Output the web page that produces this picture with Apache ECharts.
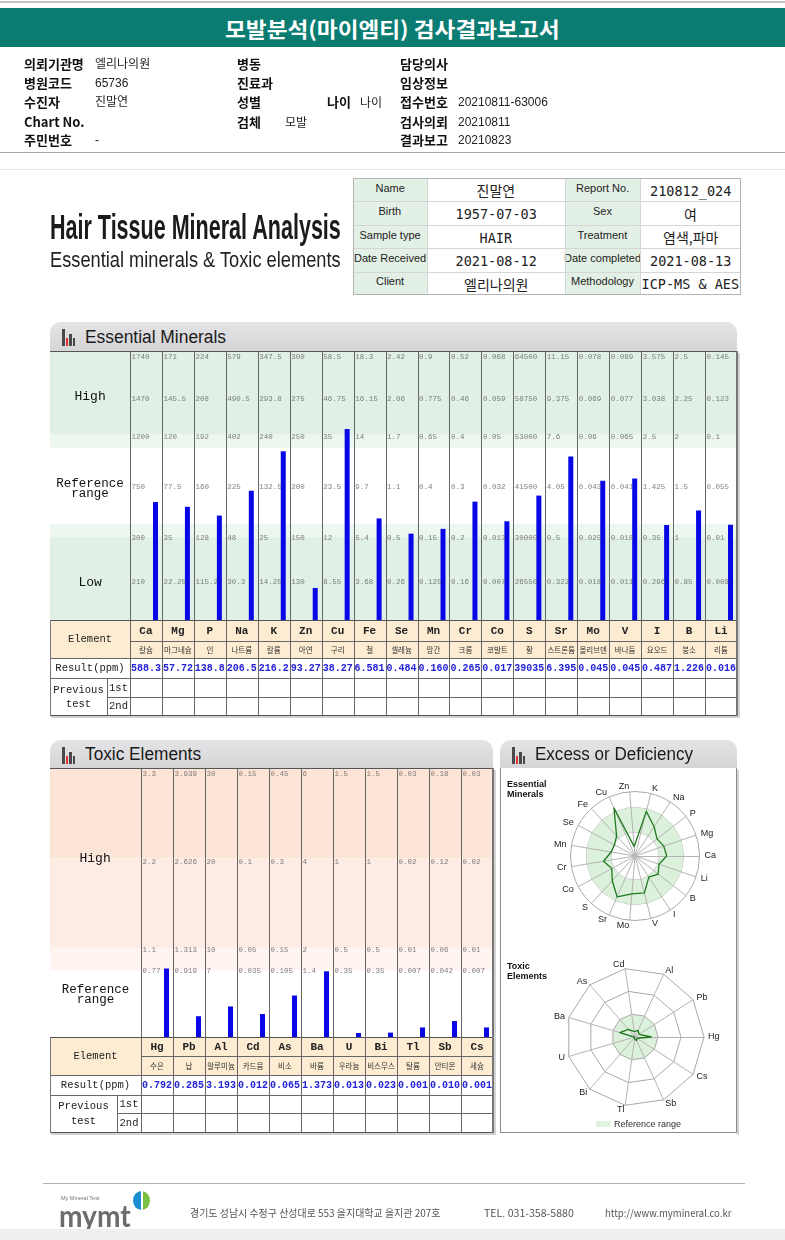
<!DOCTYPE html>
<html><head><meta charset="utf-8">
<script src="https://cdn.jsdelivr.net/npm/echarts/dist/echarts.min.js"></script>
<style>
body{margin:0;background:#fff;}
#page{position:relative;width:785px;height:1240px;overflow:hidden;background:#fff;font-family:'Noto Sans CJK KR','Noto Sans',sans-serif;}
#chart{position:absolute;left:0;top:0;width:785px;height:1240px;z-index:1;}
.a{position:absolute;white-space:nowrap;z-index:2;box-sizing:border-box;}
</style></head><body><div id="page"><div id="chart"></div></div>
<script>
// ---------------- DATA ----------------
const essSymbols=['Ca','Mg','P','Na','K','Zn','Cu','Fe','Se','Mn','Cr','Co','S','Sr','Mo','V','I','B','Li'];
const essKorean=['칼슘','마그네슘','인','나트륨','칼륨','아연','구리','철','셀레늄','망간','크롬','코발트','황','스트론튬','몰리브덴','바나듐','요오드','붕소','리튬'];
const essResult=['588.3','57.72','138.8','206.5','216.2','93.27','38.27','6.581','0.484','0.160','0.265','0.017','39035','6.395','0.045','0.045','0.487','1.226','0.016'];
const essTop=[1740,171,224,579,347.5,300,58.5,18.3,2.42,0.9,0.52,0.068,64500,11.15,0.078,0.089,3.575,2.5,0.145];
const essHighMid=[1470,145.5,208,490.5,293.8,275,46.75,16.15,2.06,0.775,0.46,0.059,58750,9.375,0.069,0.077,3.038,2.25,0.123];
const essHigh=[1200,120,192,402,240,250,35,14,1.7,0.65,0.4,0.05,53000,7.6,0.06,0.065,2.5,2,0.1];
const essRefMid=[750,77.5,160,225,132.5,200,23.5,9.7,1.1,0.4,0.3,0.032,41500,4.05,0.043,0.041,1.425,1.5,0.055];
const essLow=[300,35,128,48,25,150,12,5.4,0.5,0.15,0.2,0.013,30000,0.5,0.025,0.018,0.35,1,0.01];
const essLowMid=[210,22.25,115.2,30.3,14.25,130,8.55,3.68,0.26,0.125,0.16,0.007,26550,0.322,0.018,0.011,0.296,0.85,0.008];

const toxSymbols=['Hg','Pb','Al','Cd','As','Ba','U','Bi','Tl','Sb','Cs'];
const toxKorean=['수은','납','알루미늄','카드뮴','비소','바륨','우라늄','비스무스','탈륨','안티몬','세슘'];
const toxResult=['0.792','0.285','3.193','0.012','0.065','1.373','0.013','0.023','0.001','0.010','0.001'];
const toxTop=[3.3,3.939,30,0.15,0.45,6,1.5,1.5,0.03,0.18,0.03];
const toxMid=[2.2,2.626,20,0.1,0.3,4,1,1,0.02,0.12,0.02];
const toxRef=[1.1,1.313,10,0.05,0.15,2,0.5,0.5,0.01,0.06,0.01];
const toxLow=[0.77,0.919,7,0.035,0.105,1.4,0.35,0.35,0.007,0.042,0.007];

const infoRows=[['의뢰기관명','엘리나의원','병동','','담당의사',''],['병원코드','65736','진료과','','임상정보',''],['수진자','진말연','성별','','접수번호','20210811-63006'],['Chart No.','','검체','모발','검사의뢰','20210811'],['주민번호','-','','','결과보고','20210823']];
const reportTable=[['Name','진말연','Report No.','210812_024'],['Birth','1957-07-03','Sex','여'],['Sample type','HAIR','Treatment','염색,파마'],['Date Received','2021-08-12','Date completed','2021-08-13'],['Client','엘리나의원','Methodology','ICP-MS & AES']];

// ---------------- HELPERS ----------------
const P=document.getElementById('page');
function el(css,html){const d=document.createElement('div');d.className='a';d.style.cssText=css;if(html!==undefined)d.innerHTML=html;P.appendChild(d);return d;}
function rect(x,y,w,h,bg,extra){return el(`left:${x}px;top:${y}px;width:${w}px;height:${h}px;background:${bg};${extra||''}`);}
function cell(x,y,w,h,html,font,color,extra){return el(`left:${x}px;top:${y}px;width:${w}px;height:${h}px;display:flex;align-items:center;justify-content:center;text-align:center;font:${font};color:${color||'#222'};${extra||''}`,html);}
function text(x,y,str,font,color,align,fitW){
  const d=el(`left:0;top:0;font:${font};color:${color};line-height:1.2;`);d.textContent=str;
  const w=d.offsetWidth,h=d.offsetHeight;let sx=fitW?fitW/w:1;const ww=w*sx;
  d.style.left=(align==='c'?x-ww/2:align==='r'?x-ww:x)+'px';d.style.top=(y-h/2)+'px';
  if(sx!==1){d.style.transformOrigin='0 50%';d.style.transform=`scaleX(${sx})`;}
  return d;}
function hl(x1,x2,y,c,t){return rect(x1,y,x2-x1,t||1,c);}
function vl(x,y1,y2,c,t){return rect(x,y1,t||1,y2-y1,c);}
const MONO="'Liberation Mono','DejaVu Sans Mono',monospace";
const KR="'Noto Sans CJK KR','Noto Sans',sans-serif";
const SANS="'Liberation Sans','Arial',sans-serif";
const NARROW="'Liberation Sans Narrow','Liberation Sans',sans-serif";

// ---------------- HEADER ----------------
hl(0,785,1,'#c4c4c4',2);
rect(0,8,785,39,'#0b7c72');
text(392,28,'모발분석(마이엠티) 검사결과보고서',`bold 21px ${KR}`,'#fff','c',334);
const rowY=[64,83,102,122,140];
infoRows.forEach((r,i)=>{
  const y=rowY[i];
  if(r[0]) text(24,y,r[0],`bold 13px ${KR}`,'#111','l');
  if(r[1]) text(95,y,r[1],`12px ${NARROW.replace("'Liberation Sans Narrow',","'Liberation Sans Narrow',")},${KR}`,'#222','l');
  if(r[2]) text(237,y,r[2],`bold 13px ${KR}`,'#111','l');
  if(r[3]) text(285,y,r[3],`12px ${KR}`,'#222','l');
  if(r[4]) text(400,y,r[4],`bold 13px ${KR}`,'#111','l');
  if(r[5]) text(458,y,r[5],`12px ${NARROW},${KR}`,'#222','l');
});
text(327,102,'나이',`bold 13px ${KR}`,'#111','l');
text(360,102,'나이',`12px ${KR}`,'#222','l');
hl(0,785,152,'#a8a8a8',1);
hl(0,785,169,'#e8e8e8',1);

text(50,227,'Hair Tissue Mineral Analysis',`bold 35px ${NARROW}`,'#1b1b1b','l',291);
text(50,260,'Essential minerals & Toxic elements',`22px ${NARROW}`,'#222','l',291);

// report table
(function(){
  const xs=[353,427,565,640,741],y0=178,rh=23.4;
  rect(353,178,388,117,'#fff');
  reportTable.forEach((r,i)=>{
    const y=y0+i*rh;
    rect(353,y,74,rh,'#e3f0e6');rect(565,y,75,rh,'#e3f0e6');
    for(let c=0;c<4;c++){
      const isLab=c%2===0, s=r[c];
      const font=isLab?`11px ${NARROW}`:(/[가-힣]/.test(s)?`14px ${KR}`:`13.5px 'DejaVu Sans Mono',monospace`);
      text((xs[c]+xs[c+1])/2,y+rh/2+(isLab?-1.5:1),s,font,'#222','c');
    }
    if(i>0) hl(353,741,Math.round(y),'#d6d6d6',1);
  });
  [427,565,640].forEach(x=>vl(x,178,295,'#d6d6d6',1));
  rect(353,178,388,117,'transparent','border:1px solid #b4b4b4;');
})();

// panel header
function panelHeader(x1,x2,y1,y2,title,tw){
  rect(x1,y1,x2-x1,y2-y1,'linear-gradient(#e4e4e6,#d5d5d7)','border-radius:11px 11px 0 0;');
  const bx=x1+12,bb=y1+24;
  [[0,17,'#4a4a4a'],[3.5,8,'#e03333'],[7,12,'#4a4a4a'],[10.5,8,'#4a4a4a']].forEach(b=>rect(bx+b[0],bb-b[1],2.5,b[1],b[2]));
  text(x1+35,(y1+y2)/2+1,title,`18px ${SANS}`,'#1a1a1a','l',tw);
}
panelHeader(50,737,322,351,'Essential Minerals',141);
panelHeader(50,493,740,768,'Toxic Elements',116);
panelHeader(500,737,740,768,'Excess or Deficiency',158);

// ---------------- ESSENTIAL TABLE ----------------
const eL=130,eW=607/19,eT=352,eB=620;
const eRows=[620,641,658,678,697,715];
rect(50,620,687,38,'#fdecd1');
essSymbols.forEach((s,i)=>{
  const x=eL+i*eW;
  cell(x,620,eW,21,s,`bold 11px ${MONO}`,'#222');
  cell(x-2,641,eW+4,17,essKorean[i],`7.5px ${KR}`,'#333');
  cell(x-2,658,eW+4,20,essResult[i],`bold 10px ${MONO}`,'#2323d8');
});
cell(50,620,80,38,'Element',`10.5px ${MONO}`,'#222');
cell(50,658,80,20,'Result(ppm)',`10.5px ${MONO}`,'#222');
cell(50,678,57,37,'Previous<br>test',`10.5px ${MONO}`,'#222','line-height:14px;');
cell(107,678,23,19,'1st',`10.5px ${MONO}`,'#222');
cell(107,697,23,18,'2nd',`10.5px ${MONO}`,'#222');
text(90,397,'High',`13px ${MONO}`,'#111','c');
cell(50,474,80,30,'Reference<br>range',`12.5px ${MONO}`,'#111','line-height:10px;');
text(90,583,'Low',`13px ${MONO}`,'#111','c');
hl(50,737,351,'#555',1);
hl(50,737,620,'#555',1);
hl(130,737,641,'#666',1);
hl(50,737,658,'#666',1);
hl(50,737,678,'#666',1);
hl(107,737,697,'#666',1);
hl(50,737,715,'#555',1);
hl(51,739,716,'#d0d0d0',2);
vl(50,620,716,'#777',1);
vl(107,678,715,'#666',1);
for(let k=0;k<19;k++) vl(Math.round(eL+k*eW),352,715,'#666',1);
vl(736,351,716,'#777',2);
vl(738,353,718,'#d4d4d4',2);

// ---------------- TOXIC TABLE ----------------
const tL=141,tW=32,tT=769,tB=1037;
rect(50,1037,443,38,'#fdecd1');
toxSymbols.forEach((s,i)=>{
  const x=tL+i*tW;
  cell(x,1037,tW,19,s,`bold 11px ${MONO}`,'#222');
  cell(x-2,1056,tW+4,19,toxKorean[i],`7.5px ${KR}`,'#333');
  cell(x-2,1075,tW+4,20,toxResult[i],`bold 10px ${MONO}`,'#2323d8');
});
cell(50,1037,91,38,'Element',`10.5px ${MONO}`,'#222');
cell(50,1075,91,20,'Result(ppm)',`10.5px ${MONO}`,'#222');
cell(50,1095,67,37,'Previous<br>test',`10.5px ${MONO}`,'#222','line-height:15px;');
cell(117,1095,24,18,'1st',`10.5px ${MONO}`,'#222');
cell(117,1113,24,19,'2nd',`10.5px ${MONO}`,'#222');
text(95,859,'High',`13px ${MONO}`,'#111','c');
cell(50,980,91,30,'Reference<br>range',`12.5px ${MONO}`,'#111','line-height:10px;');
hl(50,493,768,'#555',1);
hl(50,493,1037,'#555',1);
hl(141,493,1056,'#666',1);
hl(50,493,1075,'#666',1);
hl(50,493,1095,'#666',1);
hl(117,493,1113,'#666',1);
hl(50,493,1132,'#555',1);
hl(51,495,1133,'#d0d0d0',2);
vl(50,1037,1133,'#777',1);
vl(117,1095,1132,'#666',1);
for(let k=0;k<11;k++) vl(tL+k*tW,769,1132,'#666',1);
vl(492,768,1133,'#777',2);
vl(494,770,1135,'#d4d4d4',2);

// ---------------- EXCESS PANEL ----------------
vl(500,768,1133,'#8a8a8a',1);
vl(736,768,1133,'#8a8a8a',1);
vl(737,770,1135,'#d4d4d4',2);
hl(500,737,1132,'#8a8a8a',1);
text(507,784,'Essential',`bold 9px ${SANS}`,'#111','l');
text(507,794,'Minerals',`bold 9px ${SANS}`,'#111','l');
text(507,966,'Toxic',`bold 9px ${SANS}`,'#111','l');
text(507,976,'Elements',`bold 9px ${SANS}`,'#111','l');
rect(596,1121,14,6,'#dff3df');
text(614,1124,'Reference range',`9px ${SANS}`,'#333','l');

// ---------------- FOOTER ----------------
hl(43,745,1183,'#b0b0b0',1);
text(61,1198,'My Mineral Test',`5.5px ${SANS}`,'#777','l');
text(59,1215,'mymt',`bold 30px 'Lato','Liberation Sans',sans-serif`,'#6b6c6e','l',72);
rect(133,1191,17,19,'linear-gradient(90deg,#1c8fd3 0%,#1c8fd3 48%,#fff 48%,#fff 56%,#7bc143 56%)','border-radius:50%;');
text(190,1213,'경기도 성남시 수정구 산성대로 553 을지대학교 을지관 207호',`10px ${KR}`,'#555','l',250);
text(484,1213,'TEL. 031-358-5880',`10px ${KR}`,'#555','l',90);
text(605,1213,'http://www.mymineral.co.kr',`10px ${KR}`,'#555','l',126);
rect(0,1229,785,11,'#efefef');

// ---------------- SCALES (data -> display score) ----------------
function piece(v,xs,ys){
  if(v<=xs[0]) return ys[0];
  for(let k=1;k<xs.length;k++){ if(v<=xs[k]) return ys[k-1]+(v-xs[k-1])/(xs[k]-xs[k-1])*(ys[k]-ys[k-1]); }
  return ys[ys.length-1];
}
const essScore=essSymbols.map((s,i)=>piece(parseFloat(essResult[i]),[0,essLowMid[i],essLow[i],essRefMid[i],essHigh[i],essHighMid[i],essTop[i]],[0,1,2,3,4,5,6]));
const toxScore=toxSymbols.map((s,i)=>piece(parseFloat(toxResult[i]),[0,toxLow[i],toxRef[i],toxMid[i],toxTop[i]],[0,0.75,1,2,3]));
const essRadarT=essSymbols.map((s,i)=>(parseFloat(essResult[i])-essLow[i])/(essHigh[i]-essLow[i]));
const toxRadarT=toxSymbols.map((s,i)=>parseFloat(toxResult[i])/toxRef[i]);

function tickSeries(xi,yi,levels,n,colW){
  const data=[];
  levels.forEach(([arr,unit,off])=>{for(let i=0;i<n;i++) data.push({value:[i,unit],name:String(arr[i]),label:{offset:[0,off]}});});
  return {type:'scatter',xAxisIndex:xi,yAxisIndex:yi,symbol:'rect',symbolSize:[colW-1,1],itemStyle:{color:'rgba(0,0,0,0)'},silent:true,z:5,data,
    label:{show:true,position:'insideLeft',distance:1,formatter:'{b}',fontSize:7.5,fontFamily:"'Liberation Mono',monospace",color:'#606060'}};
}
function bandSeries(xi,yi,bands){
  return {type:'line',xAxisIndex:xi,yAxisIndex:yi,data:[[0,0]],showSymbol:false,symbolSize:0,lineStyle:{opacity:0},silent:true,z:0,
    markArea:{silent:true,data:bands.map(b=>[{yAxis:b[0],itemStyle:{color:b[2]}},{yAxis:b[1]}])}};
}
const hidden={show:false};
const chart=echarts.init(document.getElementById('chart'),null,{renderer:'canvas'});
chart.setOption({
  animation:false,
  grid:[
    {left:50,top:eT,width:687,height:eB-eT},
    {left:eL,top:eT,width:607,height:eB-eT},
    {left:50,top:tT,width:443,height:tB-tT},
    {left:tL,top:tT,width:352,height:tB-tT}
  ],
  xAxis:[
    {type:'value',gridIndex:0,min:0,max:1,...hidden},
    {type:'category',gridIndex:1,data:essSymbols,...hidden},
    {type:'value',gridIndex:2,min:0,max:1,...hidden},
    {type:'category',gridIndex:3,data:toxSymbols,...hidden}
  ],
  yAxis:[
    {type:'value',gridIndex:0,min:0,max:6,...hidden},
    {type:'value',gridIndex:1,min:0,max:6,...hidden},
    {type:'value',gridIndex:2,min:0,max:3,...hidden},
    {type:'value',gridIndex:3,min:0,max:3,...hidden}
  ],
  radar:[
    {center:[635,856],radius:64.5,startAngle:0,shape:'circle',splitNumber:1,z:3,axisNameGap:5,
     indicator:essSymbols.map(s=>({name:s,min:-0.944,max:1.625})),
     axisName:{color:'#222',fontSize:9,fontFamily:SANS},
     splitLine:{lineStyle:{color:'#a8a8a8',width:1}},splitArea:{show:false},axisLine:{lineStyle:{color:'#b4b4b4',width:1}},axisTick:{show:false},axisLabel:{show:false}},
    {center:[635,1037],radius:69,startAngle:0,shape:'polygon',splitNumber:3,z:3,axisNameGap:4,
     indicator:toxSymbols.map(s=>({name:s,min:0,max:3})),
     axisName:{color:'#222',fontSize:9,fontFamily:SANS},
     splitLine:{lineStyle:{color:'#a8a8a8',width:1}},splitArea:{show:false},axisLine:{lineStyle:{color:'#b4b4b4',width:1}},axisTick:{show:false},axisLabel:{show:false}}
  ],
  series:[
    bandSeries(0,0,[[4.15,6,'#e1f0e6'],[3.85,4.15,'#eef6f0'],[1.85,2.15,'#eef6f0'],[0,1.85,'#e1f0e6']]),
    {type:'bar',xAxisIndex:1,yAxisIndex:1,data:essSymbols.map(()=>0),barWidth:5,barGap:'280%',itemStyle:{color:'rgba(0,0,0,0)'},silent:true},
    {type:'bar',xAxisIndex:1,yAxisIndex:1,data:essScore,barWidth:5,barGap:'280%',itemStyle:{color:'#0808e6'},z:4},
    tickSeries(1,1,[[essTop,6,5],[essHighMid,5,2],[essHigh,4,-4],[essRefMid,3,1],[essLow,2,7],[essLowMid,1,7]],19,607/19),
    bandSeries(2,2,[[2,3,'#fce4d6'],[1,2,'#fdece3'],[0.75,1,'#fff4ef']]),
    {type:'bar',xAxisIndex:3,yAxisIndex:3,data:toxSymbols.map(()=>0),barWidth:5,barGap:'280%',itemStyle:{color:'rgba(0,0,0,0)'},silent:true},
    {type:'bar',xAxisIndex:3,yAxisIndex:3,data:toxScore,barWidth:5,barGap:'280%',barMinHeight:4,itemStyle:{color:'#0808e6'},z:4},
    tickSeries(3,3,[[toxTop,3,5],[toxMid,2,4],[toxRef,1,2],[toxLow,0.75,1]],11,32),
    {type:'radar',radarIndex:0,z:1,silent:true,symbol:'none',data:[
      {value:essSymbols.map(()=>1),lineStyle:{color:'#b8b8b8',width:1},areaStyle:{color:'#dcf1dc',opacity:1}},
      {value:essSymbols.map(()=>0),lineStyle:{color:'#b8b8b8',width:1},areaStyle:{color:'#ffffff',opacity:1}}]},
    {type:'radar',radarIndex:0,z:6,silent:true,symbol:'none',data:[{value:essRadarT,lineStyle:{color:'#1f7a1f',width:1.3}}]},
    {type:'radar',radarIndex:1,z:1,silent:true,symbol:'none',data:[
      {value:toxSymbols.map(()=>1),lineStyle:{width:0,opacity:0},areaStyle:{color:'#dcf1dc',opacity:1}}]},
    {type:'radar',radarIndex:1,z:6,silent:true,symbol:'none',data:[{value:toxRadarT,lineStyle:{color:'#1f7a1f',width:1.3}}]}
  ]
});
</script></body></html>
